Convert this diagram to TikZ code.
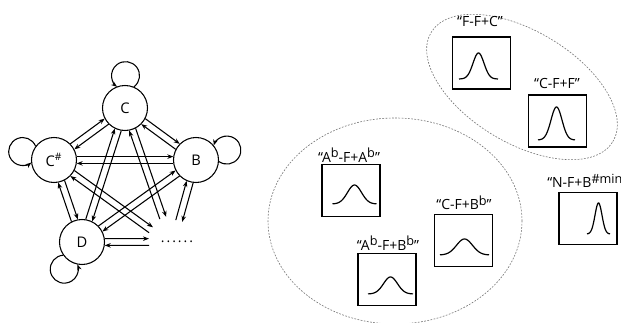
\documentclass[tikz,border=0pt]{standalone}
\usepackage{fontspec}
\setmainfont{Open Sans}
\usetikzlibrary{arrows.meta,calc}
\newcommand\flatsup{\raisebox{0.6ex}{\fontsize{9.5}{9.5}\selectfont b}}
\newcommand\pairnn[2]{%
  \draw[arr] ($(#1)!17.2pt!8.5:(#2)$) -- ($(#2)!17.2pt!-8.5:(#1)$);
  \draw[arr] ($(#2)!17.2pt!8.5:(#1)$) -- ($(#1)!17.2pt!-8.5:(#2)$);}
\newcommand\pairnc[2]{%
  \draw[arr] ($(#1)!17.2pt!8.5:(#2)$) -- ($(#2)!2.5pt!-90:(#1)$);
  \draw[arr] ($(#2)!2.5pt!90:(#1)$) -- ($(#1)!17.2pt!-8.5:(#2)$);}
\newcommand\gausscurve[6]{%
  \begin{scope}[shift={(#1.center)}]
  \draw[curve] plot[domain=-#4:#4, samples=60, smooth] ({\x+#2}, {#3-#5*exp(-(\x)^2/(2*#6*#6))});
  \end{scope}}
\begin{document}
\begin{tikzpicture}[x=0.75pt,y=-0.75pt,
  st/.style={circle,draw,line width=0.8pt,minimum size=33.75pt,inner sep=0pt,font=\fontsize{11}{11}\selectfont},
  arr/.style={-{Stealth[length=4.5pt,width=3.4pt]},line width=0.8pt},
  box/.style={draw,line width=0.9pt,minimum width=43.5pt,minimum height=39pt,inner sep=0pt},
  lab/.style={font=\fontsize{10.5}{10.5}\selectfont,inner sep=0pt},
  curve/.style={line width=0.9pt},
  grp/.style={draw=black!55,line width=0.45pt,dash pattern=on 1.3pt off 1.1pt}]
\fill[white] (0,0) rectangle (621,323);
\useasboundingbox (0,0) rectangle (621,323);
% groups
\draw[grp,rotate around={-31:(522,87)}] (522,87) ellipse [x radius=79.5pt, y radius=42pt];
\draw[grp] (395,221) ellipse [x radius=95.25pt, y radius=77.25pt];
% graph nodes
\node[st] (C) at (125,108) {C};
\node[st] (Cs) at (54,160) {C\textsuperscript{\#}};
\node[st] (B) at (196,160) {B};
\node[st] (D) at (82,242) {D};
\node[lab] (dots) at (177,242) {.\kern1.5pt.\kern1.5pt.\kern1.5pt.\kern1.5pt.\kern1.5pt.};
\coordinate (tC) at (163,218);
\coordinate (tCs) at (151,230);
\coordinate (tB) at (179,221);
\coordinate (tD) at (149,242);
% pairs of edges
\pairnn{C}{Cs}
\pairnn{C}{B}
\pairnn{Cs}{B}
\pairnn{C}{D}
\pairnn{Cs}{D}
\pairnn{B}{D}
\pairnc{C}{tC}
\pairnc{Cs}{tCs}
\pairnc{B}{tB}
\pairnc{D}{tD}
% self loops
\draw[arr] (C.67.8) arc[start angle=-52.8, end angle=232.8, radius=10.5pt];
\draw[arr] (Cs.143.3) arc[start angle=22.7, end angle=308.3, radius=10.5pt];
\draw[arr] (B.356.2) arc[start angle=-124.4, end angle=161.2, radius=10.5pt];
\draw[arr] (D.215.1) arc[start angle=94.5, end angle=380.1, radius=10.5pt];
% boxes
\node[box] (b1) at (481.5,63) {};
\node[box] (b2) at (557.5,121) {};
\node[box] (b3) at (588,218.5) {};
\node[box] (b4) at (351,190.5) {};
\node[box] (b5) at (463.5,240.5) {};
\node[box] (b6) at (387,279.5) {};
\gausscurve{b1}{-3}{16}{19.5}{26}{5.5}
\gausscurve{b2}{-1}{19}{18.5}{33}{5.5}
\gausscurve{b3}{10.5}{15.5}{11.5}{31}{3.5}
\gausscurve{b4}{3.5}{13.5}{22}{19}{7}
\gausscurve{b5}{1}{14.5}{24.5}{16}{8}
\gausscurve{b6}{3.5}{14.5}{22.5}{17}{7}
% labels
\node[lab] (l1) at (480,22) {“F-F+C”};
\node[lab] (l2) at (557,84) {“C-F+F”};
\node[lab,anchor=west] (l3) at (547,181) {“N-F+B\raisebox{0.6ex}{\fontsize{9.5}{9.5}\selectfont\#min}”};
\node[lab] (l4) at (349,155) {“A\flatsup-F+A\flatsup”};
\node[lab] (l5) at (464,203) {“C-F+B\flatsup”};
\node[lab] (l6) at (388,243) {“A\flatsup-F+B\flatsup”};
\end{tikzpicture}
\end{document}
